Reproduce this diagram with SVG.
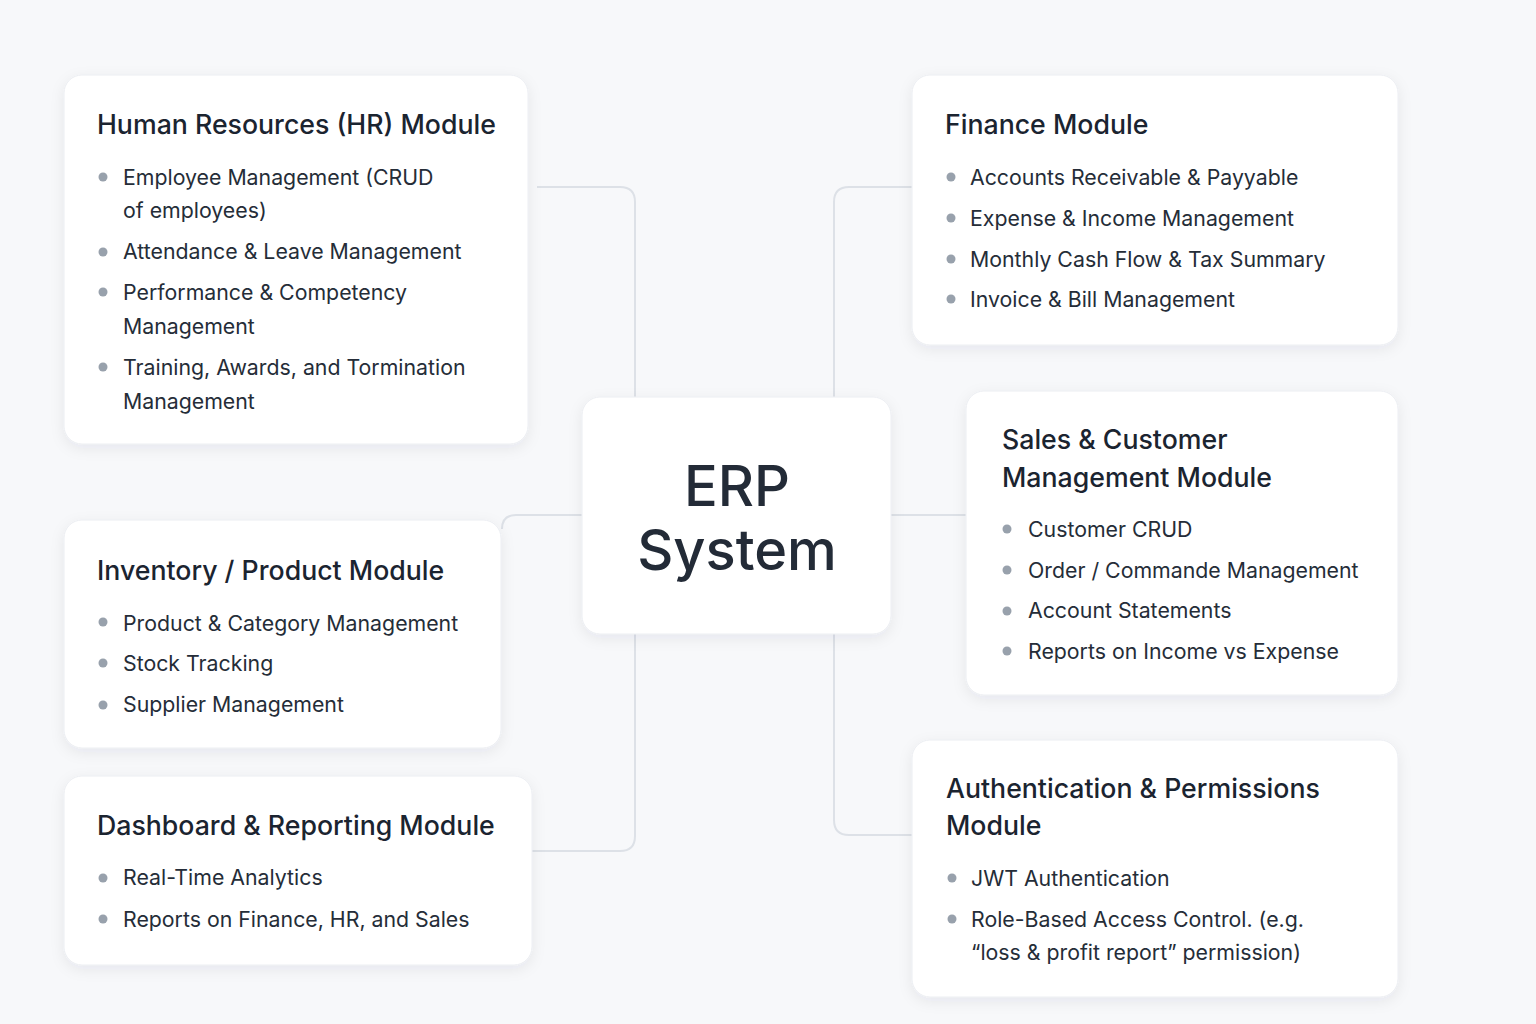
<svg xmlns="http://www.w3.org/2000/svg" width="1536" height="1024" viewBox="0 0 1536 1024">
  <defs>
    <filter id="shadow" x="-10%" y="-10%" width="120%" height="125%">
      <feDropShadow dx="0" dy="4" stdDeviation="7" flood-color="#1e293b" flood-opacity="0.07"/>
    </filter>
    <style>
      .card { fill: #ffffff; stroke: #eceef2; stroke-width: 1; filter: url(#shadow); }
      .title { font-family: Inter, "Noto Sans", "Liberation Sans", sans-serif; font-size: 26.7px; font-weight: 500; fill: #1b2430; }
      .item { font-family: Inter, "Noto Sans", "Liberation Sans", sans-serif; font-size: 21.3px; font-weight: 400; fill: #252d38; }
      .bullet { fill: #98a1ac; }
      .center { font-family: Inter, "Noto Sans", "Liberation Sans", sans-serif; font-size: 56px; font-weight: 500; fill: #232b37; }
      .conn { fill: none; stroke: #dde1e7; stroke-width: 2; }
    </style>
  </defs>

  <rect width="1536" height="1024" fill="#f7f8fa"/>

  <g id="connectors">
    <path class="conn" d="M537,187 H620 Q635,187 635,202 V397"/>
    <path class="conn" d="M912,187 H849 Q834,187 834,202 V397"/>
    <path class="conn" d="M582,515 H516 Q502,515 502,529"/>
    <path class="conn" d="M891,515 H966"/>
    <path class="conn" d="M635,634 V836 Q635,851 620,851 H532"/>
    <path class="conn" d="M834,634 V820 Q834,835 849,835 H912"/>
  </g>

  <g id="center">
    <rect class="card" x="582" y="397" width="309" height="237" rx="18"/>
    <text class="center" x="737" y="506" text-anchor="middle">ERP</text>
    <text class="center" x="737" y="570" text-anchor="middle">System</text>
  </g>

  <g id="hr">
    <rect class="card" x="64" y="75" width="464" height="369" rx="18"/>
    <text class="title" x="97" y="134">Human Resources (HR) Module</text>
    <circle class="bullet" cx="103" cy="177" r="4.5"/>
    <text class="item" x="123" y="185">Employee Management (CRUD</text>
    <text class="item" x="123" y="218">of employees)</text>
    <circle class="bullet" cx="103" cy="252" r="4.5"/>
    <text class="item" x="123" y="259">Attendance &amp; Leave Management</text>
    <circle class="bullet" cx="103" cy="292" r="4.5"/>
    <text class="item" x="123" y="300">Performance &amp; Competency</text>
    <text class="item" x="123" y="334">Management</text>
    <circle class="bullet" cx="103" cy="367" r="4.5"/>
    <text class="item" x="123" y="375">Training, Awards, and Tormination</text>
    <text class="item" x="123" y="409">Management</text>
  </g>

  <g id="finance">
    <rect class="card" x="912" y="75" width="486" height="270" rx="18"/>
    <text class="title" x="945" y="134">Finance Module</text>
    <circle class="bullet" cx="951" cy="177" r="4.5"/>
    <text class="item" x="970" y="185">Accounts Receivable &amp; Payyable</text>
    <circle class="bullet" cx="951" cy="218" r="4.5"/>
    <text class="item" x="970" y="226">Expense &amp; Income Management</text>
    <circle class="bullet" cx="951" cy="259" r="4.5"/>
    <text class="item" x="970" y="267">Monthly Cash Flow &amp; Tax Summary</text>
    <circle class="bullet" cx="951" cy="299" r="4.5"/>
    <text class="item" x="970" y="307">Invoice &amp; Bill Management</text>
  </g>

  <g id="sales">
    <rect class="card" x="966" y="391" width="432" height="304" rx="18"/>
    <text class="title" x="1002" y="449">Sales &amp; Customer</text>
    <text class="title" x="1002" y="487">Management Module</text>
    <circle class="bullet" cx="1007" cy="529" r="4.5"/>
    <text class="item" x="1028" y="537">Customer CRUD</text>
    <circle class="bullet" cx="1007" cy="570" r="4.5"/>
    <text class="item" x="1028" y="578">Order / Commande Management</text>
    <circle class="bullet" cx="1007" cy="611" r="4.5"/>
    <text class="item" x="1028" y="618">Account Statements</text>
    <circle class="bullet" cx="1007" cy="651" r="4.5"/>
    <text class="item" x="1028" y="659">Reports on Income vs Expense</text>
  </g>

  <g id="inventory">
    <rect class="card" x="64" y="520" width="437" height="228" rx="18"/>
    <text class="title" x="97" y="580">Inventory / Product Module</text>
    <circle class="bullet" cx="103" cy="622" r="4.5"/>
    <text class="item" x="123" y="631">Product &amp; Category Management</text>
    <circle class="bullet" cx="103" cy="663" r="4.5"/>
    <text class="item" x="123" y="671">Stock Tracking</text>
    <circle class="bullet" cx="103" cy="705" r="4.5"/>
    <text class="item" x="123" y="712">Supplier Management</text>
  </g>

  <g id="dashboard">
    <rect class="card" x="64" y="776" width="468" height="189" rx="18"/>
    <text class="title" x="97" y="835">Dashboard &amp; Reporting Module</text>
    <circle class="bullet" cx="103" cy="878" r="4.5"/>
    <text class="item" x="123" y="885">Real-Time Analytics</text>
    <circle class="bullet" cx="103" cy="919" r="4.5"/>
    <text class="item" x="123" y="927">Reports on Finance, HR, and Sales</text>
  </g>

  <g id="auth">
    <rect class="card" x="912" y="740" width="486" height="257" rx="18"/>
    <text class="title" x="946" y="798">Authentication &amp; Permissions</text>
    <text class="title" x="946" y="835">Module</text>
    <circle class="bullet" cx="952" cy="878" r="4.5"/>
    <text class="item" x="971" y="886">JWT Authentication</text>
    <circle class="bullet" cx="952" cy="919" r="4.5"/>
    <text class="item" x="971" y="927">Role-Based Access Control. (e.g.</text>
    <text class="item" x="971" y="960">“loss &amp; profit report” permission)</text>
  </g>
</svg>
